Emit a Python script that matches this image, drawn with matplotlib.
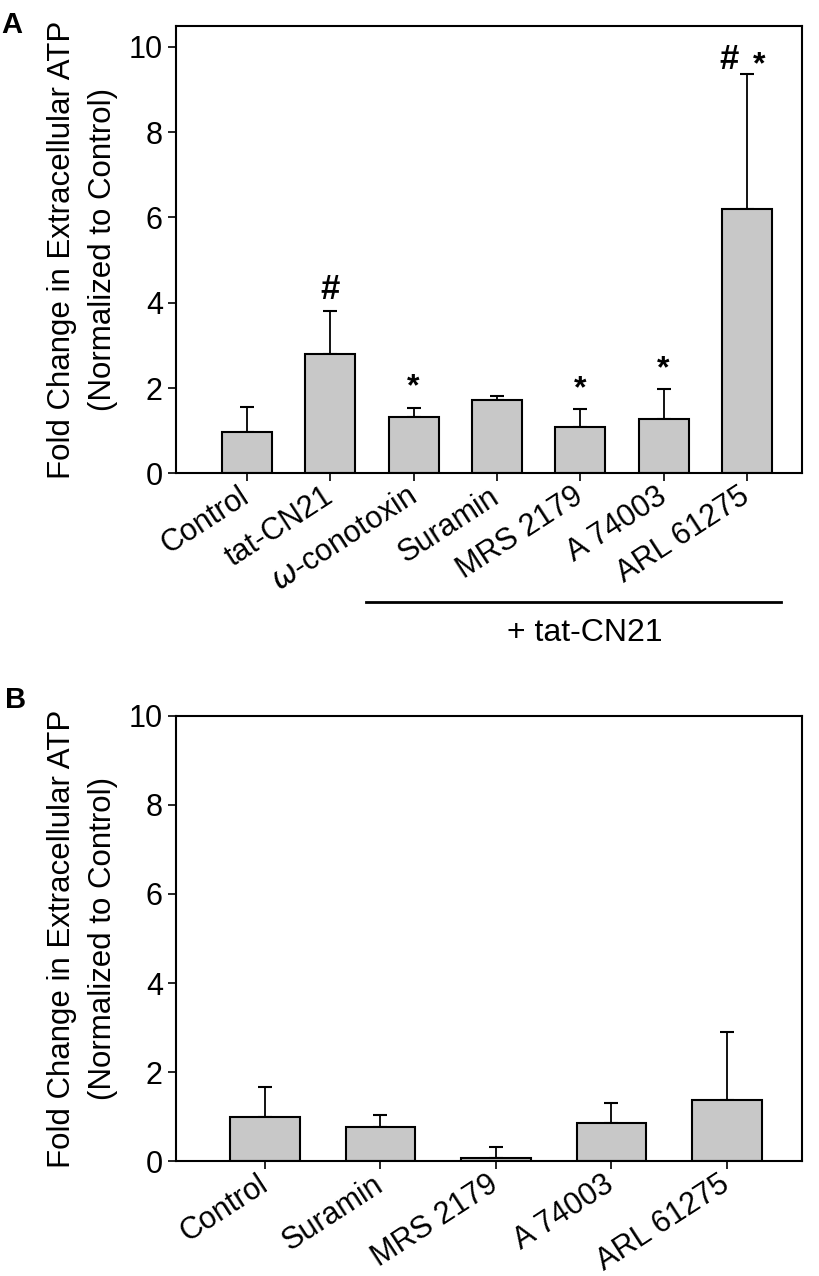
import matplotlib
matplotlib.use("Agg")
import matplotlib.pyplot as plt

plt.rcParams["font.family"] = ["Liberation Sans", "DejaVu Sans"]

BAR = "#c8c8c8"

# ---------------------------------------------------------------- panel A data
a_labels = ["Control", "tat-CN21", r"$\omega$-conotoxin", "Suramin", "MRS 2179", "A 74003", "ARL 61275"]
a_means = [0.97, 2.80, 1.32, 1.71, 1.09, 1.27, 6.20]
a_err = [0.59, 1.01, 0.22, 0.10, 0.42, 0.71, 3.16]
a_marks = ["", "#", "*", "", "*", "*", ""]

# ---------------------------------------------------------------- panel B data
b_labels = ["Control", "Suramin", "MRS 2179", "A 74003", "ARL 61275"]
b_means = [1.00, 0.77, 0.06, 0.85, 1.37]
b_err = [0.67, 0.26, 0.26, 0.46, 1.54]

fig = plt.figure(figsize=(8.2, 12.76), dpi=100)
axA = fig.add_axes([0.2146, 0.629, 0.7634, 0.351])
axB = fig.add_axes([0.2146, 0.090, 0.7634, 0.349])

ylab = "Fold Change in Extracellular ATP\n(Normalized to Control)"


def draw(ax, labels, means, err, width):
    x = list(range(len(labels)))
    ax.bar(x, means, width=width, color=BAR, edgecolor="black", linewidth=1.5, zorder=2)
    ax.errorbar(x, means, yerr=[[0] * len(err), err], fmt="none", ecolor="black",
                elinewidth=1.3, capsize=5, capthick=1.5, zorder=1)
    ax.set_xticks(x)
    ax.set_xticklabels(labels, rotation=33, ha="right", va="center",
                       rotation_mode="anchor", fontsize=22)
    ax.set_yticks([0, 2, 4, 6, 8, 10])
    ax.tick_params(axis="y", labelsize=22, direction="out", length=6, width=1.2)
    ax.tick_params(axis="x", direction="out", length=6, width=1.2, pad=9)
    ax.set_ylabel(ylab, fontsize=22.5, linespacing=1.5)
    ax.yaxis.set_label_coords(-0.092, 0.5)
    for s in ax.spines.values():
        s.set_linewidth(1.5)
    return x


xa = draw(axA, a_labels, a_means, a_err, 0.6)
axA.set_xlim(-0.85, 6.66)
axA.set_ylim(0, 10.5)
for xi, m, e, t in zip(xa, a_means, a_err, a_marks):
    if t:
        axA.text(xi, m + e + 0.12, t, ha="center", va="bottom",
                 fontsize=25 if t == "#" else 23, fontweight="bold")
# combined marker over the last bar
top = a_means[-1] + a_err[-1]
axA.text(xa[-1] - 0.1, top - 0.05, "#", ha="right", va="bottom", fontsize=25, fontweight="bold")
axA.text(xa[-1] + 0.07, top + 0.55, "*", ha="left", va="top", fontsize=23, fontweight="bold")

xb = draw(axB, b_labels, b_means, b_err, 0.6)
axB.set_xlim(-0.77, 4.65)
axB.set_ylim(0, 10)

# "+ tat-CN21" group bracket
fig.add_artist(plt.Line2D([366 / 820, 781 / 820], [1 - 602 / 1276] * 2, color="black", linewidth=2))
fig.text(585 / 820, 1 - 633 / 1276, "+ tat-CN21", ha="center", va="center", fontsize=23)

fig.text(0.002, 1 - 25 / 1276, "A", fontsize=21, fontweight="bold", va="center")
fig.text(0.006, 1 - 700 / 1276, "B", fontsize=21, fontweight="bold", va="center")

fig.savefig("out.png", dpi=100)
